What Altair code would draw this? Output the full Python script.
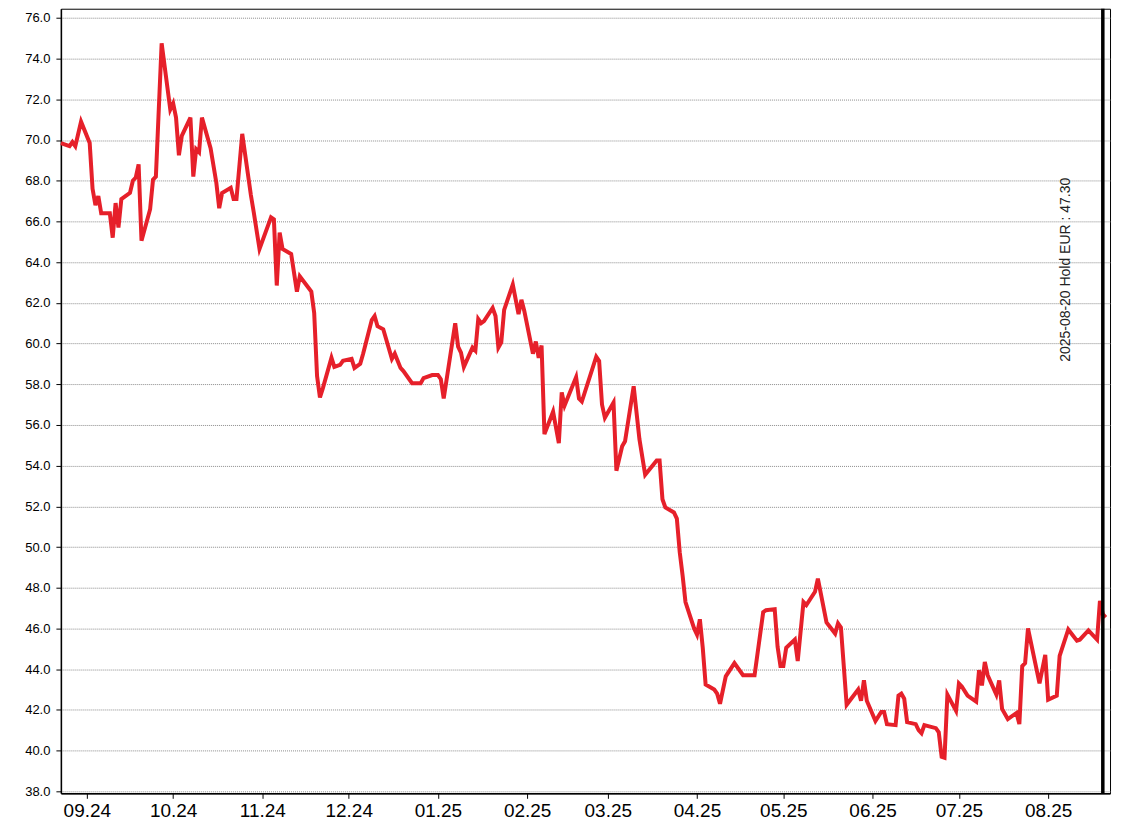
import altair as alt
import pandas as pd

DATES = [
    "2024-08-23", "2024-08-26", "2024-08-27", "2024-08-28", "2024-08-30",
    "2024-09-02", "2024-09-03", "2024-09-04", "2024-09-05", "2024-09-06",
    "2024-09-09", "2024-09-10", "2024-09-11", "2024-09-12", "2024-09-13",
    "2024-09-16", "2024-09-17", "2024-09-18", "2024-09-19", "2024-09-20",
    "2024-09-23", "2024-09-24", "2024-09-25", "2024-09-27", "2024-09-30",
    "2024-10-01", "2024-10-02", "2024-10-03", "2024-10-04", "2024-10-07",
    "2024-10-08", "2024-10-09", "2024-10-10", "2024-10-11", "2024-10-14",
    "2024-10-16", "2024-10-17", "2024-10-18", "2024-10-21", "2024-10-22",
    "2024-10-23", "2024-10-25", "2024-10-28", "2024-10-29", "2024-10-31",
    "2024-11-04", "2024-11-05", "2024-11-06", "2024-11-07", "2024-11-08",
    "2024-11-11", "2024-11-13", "2024-11-14", "2024-11-18", "2024-11-19",
    "2024-11-20", "2024-11-21", "2024-11-22", "2024-11-25", "2024-11-26",
    "2024-11-28", "2024-11-29", "2024-12-02", "2024-12-03", "2024-12-05",
    "2024-12-06", "2024-12-09", "2024-12-10", "2024-12-11", "2024-12-13",
    "2024-12-16", "2024-12-17", "2024-12-19", "2024-12-20", "2024-12-23",
    "2024-12-26", "2024-12-27", "2024-12-30", "2025-01-01", "2025-01-02",
    "2025-01-03", "2025-01-07", "2025-01-08", "2025-01-09", "2025-01-10",
    "2025-01-13", "2025-01-14", "2025-01-15", "2025-01-16", "2025-01-17",
    "2025-01-20", "2025-01-21", "2025-01-22", "2025-01-23", "2025-01-24",
    "2025-01-27", "2025-01-29", "2025-01-30", "2025-01-31", "2025-02-03",
    "2025-02-04", "2025-02-05", "2025-02-06", "2025-02-07", "2025-02-10",
    "2025-02-12", "2025-02-13", "2025-02-14", "2025-02-18", "2025-02-19",
    "2025-02-20", "2025-02-25", "2025-02-26", "2025-02-27", "2025-02-28",
    "2025-03-03", "2025-03-04", "2025-03-06", "2025-03-07", "2025-03-10",
    "2025-03-12", "2025-03-14", "2025-03-18", "2025-03-19", "2025-03-20",
    "2025-03-21", "2025-03-24", "2025-03-25", "2025-03-26", "2025-03-27",
    "2025-03-28", "2025-03-31", "2025-04-01", "2025-04-02", "2025-04-03",
    "2025-04-04", "2025-04-07", "2025-04-08", "2025-04-09", "2025-04-11",
    "2025-04-14", "2025-04-17", "2025-04-21", "2025-04-24", "2025-04-25",
    "2025-04-28", "2025-04-29", "2025-04-30", "2025-05-01", "2025-05-02",
    "2025-05-05", "2025-05-06", "2025-05-08", "2025-05-09", "2025-05-12",
    "2025-05-13", "2025-05-16", "2025-05-19", "2025-05-20", "2025-05-21",
    "2025-05-23", "2025-05-27", "2025-05-28", "2025-05-29", "2025-05-30",
    "2025-06-02", "2025-06-04", "2025-06-05", "2025-06-06", "2025-06-09",
    "2025-06-10", "2025-06-11", "2025-06-12", "2025-06-13", "2025-06-16",
    "2025-06-17", "2025-06-18", "2025-06-19", "2025-06-23", "2025-06-24",
    "2025-06-25", "2025-06-26", "2025-06-27", "2025-06-30", "2025-07-01",
    "2025-07-02", "2025-07-04", "2025-07-07", "2025-07-08", "2025-07-09",
    "2025-07-10", "2025-07-11", "2025-07-14", "2025-07-15", "2025-07-16",
    "2025-07-18", "2025-07-21", "2025-07-22", "2025-07-23", "2025-07-24",
    "2025-07-25", "2025-07-29", "2025-07-31", "2025-08-01", "2025-08-04",
    "2025-08-05", "2025-08-08", "2025-08-11", "2025-08-12", "2025-08-15",
    "2025-08-18", "2025-08-19", "2025-08-20", "2025-08-21",
]

PRICES = [
    69.85, 69.7, 69.9, 69.7, 70.9,
    69.85, 67.6, 66.8, 67.25, 66.4,
    66.4, 65.2, 66.9, 65.7, 67.1,
    67.4, 68.0, 68.15, 68.8, 65.05,
    66.6, 68.05, 68.2, 74.75, 71.5,
    71.8, 71.1, 69.25, 70.2, 71.1,
    68.2, 69.55, 69.4, 71.1, 69.6,
    67.9, 66.65, 67.4, 67.65, 67.1,
    67.1, 70.3, 67.3, 66.45, 64.65,
    66.2, 66.1, 62.85, 65.45, 64.65,
    64.4, 62.55, 63.3, 62.55, 61.5,
    58.4, 57.35, 57.8, 59.3, 58.85,
    58.95, 59.15, 59.25, 58.8, 59.0,
    59.5, 61.15, 61.35, 60.85, 60.7,
    59.25, 59.5, 58.8, 58.65, 58.05,
    58.05, 58.3, 58.45, 58.45, 58.25,
    57.3, 61.0, 59.85, 59.55, 58.85,
    59.8, 59.65, 61.2, 61.0, 61.1,
    61.75, 61.35, 59.8, 60.05, 61.65,
    62.9, 61.45, 62.15, 61.6, 59.5,
    60.1, 59.3, 59.9, 55.55, 56.65,
    55.1, 57.6, 56.95, 58.35, 57.3,
    57.15, 59.35, 59.15, 57.0, 56.35,
    57.1, 53.75, 54.95, 55.2, 57.9,
    55.3, 53.55, 54.25, 54.25, 52.35,
    51.95, 51.7, 51.4, 49.75, 48.6,
    47.3, 46.0, 45.7, 46.45, 45.05,
    43.25, 43.0, 42.8, 42.3, 43.65,
    44.3, 43.7, 43.7, 46.8, 46.9,
    46.95, 45.1, 44.15, 44.15, 45.05,
    45.45, 44.4, 47.3, 47.15, 47.8,
    48.45, 46.3, 45.75, 46.25, 46.05,
    42.25, 43.0, 42.45, 43.45, 42.45,
    41.45, 41.9, 41.9, 41.3, 41.25,
    42.7, 42.8, 42.55, 41.4, 41.3,
    41.0, 40.85, 41.25, 41.1, 40.9,
    39.7, 39.65, 42.75, 41.95, 43.3,
    43.15, 42.7, 42.4, 43.95, 43.2,
    44.35, 43.7, 42.75, 43.45, 42.05,
    41.55, 41.85, 41.3, 44.15, 44.3,
    46.0, 43.3, 44.7, 42.5, 42.7,
    44.65, 45.95, 45.4, 45.45, 45.9,
    45.45, 47.35, 46.7, 46.55,
]

Y_TICKS = [38, 40, 42, 44, 46, 48, 50, 52, 54, 56, 58, 60, 62, 64, 66, 68, 70, 72, 74, 76]
MONTH_TICKS = [(2024, 9), (2024, 10), (2024, 11), (2024, 12), (2025, 1), (2025, 2),
               (2025, 3), (2025, 4), (2025, 5), (2025, 6), (2025, 7), (2025, 8)]

HOLD_DATE = "2025-08-20"
HOLD_LABEL = "2025-08-20 Hold EUR : 47.30"
HOLD_LABEL_VALUE = 59.1

FONT = "Liberation Sans"

df = pd.DataFrame({"date": DATES, "value": PRICES})
hold_df = pd.DataFrame({"date": [HOLD_DATE], "value": [HOLD_LABEL_VALUE], "label": [HOLD_LABEL]})

x_scale = alt.Scale(
    type="utc",
    domain=[alt.DateTime(year=2024, month=8, date=23, utc=True),
            alt.DateTime(year=2025, month=8, date=22, hours=12, utc=True)],
)
y_scale = alt.Scale(domain=[37.9, 76.45], zero=False, nice=False)

x_axis = alt.Axis(
    title=None,
    values=[alt.DateTime(year=y, month=m, date=1, utc=True) for y, m in MONTH_TICKS],
    format="%m.%y",
    labelFontSize=19,
    labelFont=FONT,
    labelColor="black",
    tickSize=5,
    tickColor="black",
    domainColor="black",
    domainWidth=1.5,
    labelPadding=3,
    grid=False,
    labelFlush=False,
    labelOverlap=False,
)
y_axis = alt.Axis(
    title=None,
    values=Y_TICKS,
    format=".1f",
    labelFontSize=13,
    labelFont=FONT,
    labelColor="black",
    tickSize=5,
    tickColor="black",
    domainColor="black",
    domainWidth=1.5,
    labelPadding=6,
    grid=True,
    gridColor="#8c8c8c",
    gridDash=[1, 1],
    gridWidth=1,
    labelFlush=False,
    labelOverlap=False,
)

line = alt.Chart(df).mark_line(color="#e6202a", strokeWidth=4).encode(
    x=alt.X("date:T", scale=x_scale, axis=x_axis),
    y=alt.Y("value:Q", scale=y_scale, axis=y_axis),
)

rule = alt.Chart(hold_df).mark_rule(color="black", strokeWidth=3.5).encode(
    x=alt.X("date:T"),
)

text = alt.Chart(hold_df).mark_text(
    angle=270, align="left", baseline="middle", dy=-37,
    fontSize=14, font=FONT, color="#222222",
).encode(
    x=alt.X("date:T"),
    y=alt.Y("value:Q"),
    text="label:N",
)

chart = alt.layer(line, rule, text).properties(
    width=1051,
    height=786,
    autosize=alt.AutoSizeParams(type="none"),
    padding={"left": 53, "top": 0, "right": 10, "bottom": 30},
    background="white",
).configure_view(
    stroke="black", strokeWidth=1,
)

chart.save("out.html", embed_options={"renderer": "svg", "actions": False})
